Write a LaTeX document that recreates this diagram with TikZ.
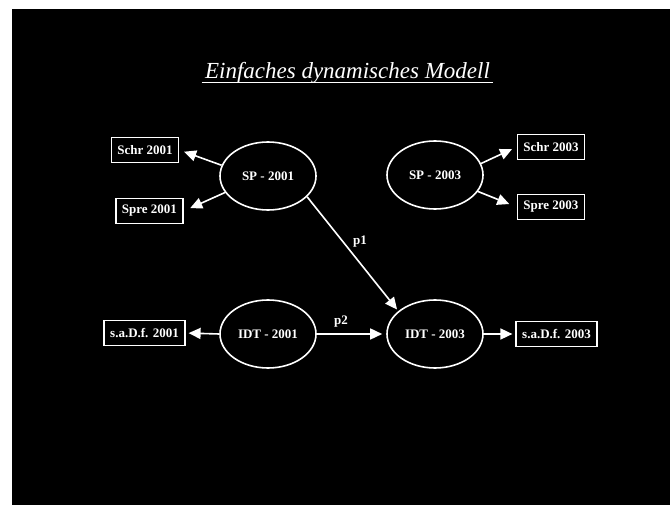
\documentclass[tikz,border=0pt]{standalone}
\usepackage{fontspec}
\setmainfont{Liberation Serif}
\usetikzlibrary{shapes.geometric,arrows.meta}
\begin{document}
\begin{tikzpicture}[x=1pt,y=-1pt,
  every node/.style={text=white,font=\fontsize{13}{15}\selectfont\bfseries},
  state/.style={ellipse,draw=white,line width=1.6pt,minimum width=96pt,minimum height=68pt,inner sep=0pt},
  obs/.style={rectangle,draw=white,line width=1.6pt,inner xsep=6pt,minimum height=25pt},
  arr/.style={draw=white,line width=1.6pt,-{Triangle[length=12pt,width=11pt]}},
  lbl/.style={inner sep=1pt}]
  % page and slide background
  \fill[white] (0,0) rectangle (670,505);
  \fill[black] (12,9) rectangle (670,505);
  \useasboundingbox (0,0) rectangle (670,505);

  % title
  \node[anchor=base,font=\fontsize{23}{26}\selectfont\itshape] (title) at (347.5,79) {Einfaches dynamisches Modell};
  \draw[white,line width=1pt] (title.west |- 0,83) -- (title.east |- 0,83);

  % latent states
  \node[state] (sp1) at (268,176) {SP - 2001};
  \node[state] (sp3) at (435,175) {SP - 2003};
  \node[state] (idt1) at (268,334) {IDT - 2001};
  \node[state] (idt3) at (435,334) {IDT - 2003};

  % indicators
  \node[obs] (schr1) at (145,150) {Schr 2001};
  \node[obs] (spre1) at (149.5,211) {Spre 2001};
  \node[obs] (schr3) at (551,147) {Schr 2003};
  \node[obs] (spre3) at (551,207) {Spre 2003};
  \node[obs] (sadf1) at (144.5,333) {s.a.D.f. 2001};
  \node[obs] (sadf3) at (556.5,334) {s.a.D.f. 2003};

  % measurement arrows
  \draw[arr,shorten >=5pt] (sp1.167) -- (schr1.east);
  \draw[arr,shorten >=7pt] (sp1.201) -- (spre1.east);
  \draw[arr,shorten >=5pt] (sp3.14) -- (schr3.west);
  \draw[arr,shorten >=8pt] (sp3.339) -- (spre3.west);
  \draw[arr,shorten >=3pt] (idt1.west) -- (sadf1.east);
  \draw[arr,shorten >=3pt] (idt3.east) -- (sadf3.west);

  % structural paths
  \draw[arr,shorten >=2pt] (sp1.332) -- (idt3.148);
  \draw[arr,shorten >=4pt] (idt1.east) -- (idt3.west);
  \node[lbl] (p1) at (360,242) {p1};
  \node[lbl] (p2) at (341,322) {p2};
\end{tikzpicture}
\end{document}
